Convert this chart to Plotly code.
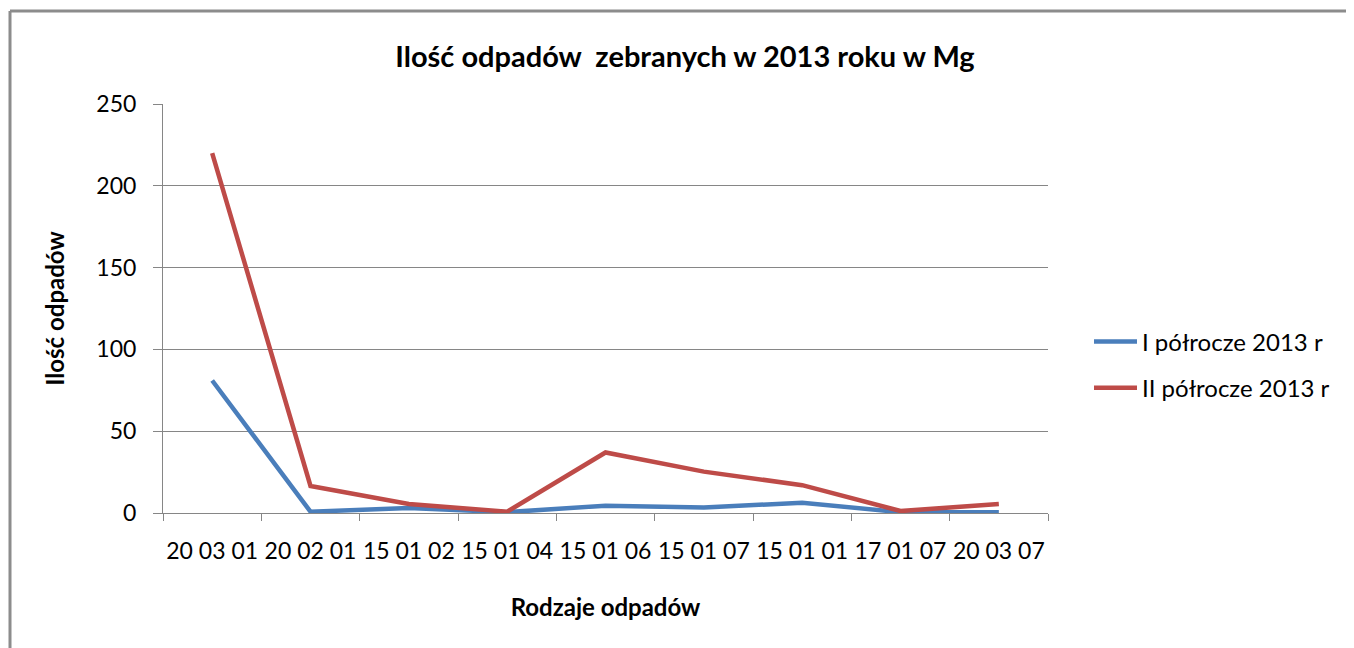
import plotly.graph_objects as go

categories = ["20 03 01", "20 02 01", "15 01 02", "15 01 04", "15 01 06",
              "15 01 07", "15 01 01", "17 01 07", "20 03 07"]
series1_name = "I półrocze 2013 r"
series1 = [81, 0.8, 3, 0.5, 4.5, 3.3, 6.3, 0.5, 0.4]
series2_name = "II półrocze 2013 r"
series2 = [220, 16.5, 5.5, 0.8, 37, 25.3, 17, 1.2, 5.5]
y_ticks = [0, 50, 100, 150, 200, 250]

OFF = 8  # page body margin of the browser
W, H = 1354 - OFF, 648 - OFF
L, R, T, B = 163 - OFF, 1048 - OFF, 104 - OFF, 513 - OFF
FONT = "Lato, Open Sans, sans-serif"
GRID = "#868686"

fig = go.Figure()
fig.add_trace(go.Scatter(x=categories, y=series1, mode="lines", name=series1_name,
                         line=dict(color="#4a7ebb", width=4.5), legendgroup="a"))
fig.add_trace(go.Scatter(x=categories, y=series2, mode="lines", name=series2_name,
                         line=dict(color="#be4b48", width=4.5), legendgroup="b"))

def px_x(p):
    return (p - OFF - L) / (R - L)

def px_y(p):
    return (B - (p - OFF)) / (B - T)

fig.update_layout(
    width=W, height=H,
    margin=dict(l=L, r=W - R, t=T, b=H - B, pad=0, autoexpand=False),
    paper_bgcolor="white", plot_bgcolor="white",
    font=dict(family=FONT, size=23, color="#000000"),
    title=dict(text="<b>Ilość odpadów  zebranych w 2013 roku w Mg</b>",
               x=(685 - OFF) / W, xanchor="center", y=1 - (57 - OFF) / H, yanchor="middle",
               font=dict(size=29, family=FONT)),
    xaxis=dict(type="category", tickson="boundaries", ticks="outside", ticklen=7,
               range=[-0.5, len(categories) - 0.5],
               tickcolor=GRID, showline=True, linecolor=GRID, linewidth=1,
               showgrid=False, tickfont=dict(size=23), tickangle=0,
               ticklabelstandoff=17,
               title=dict(text="<b>Rodzaje odpadów</b>", font=dict(size=24), standoff=36)),
    yaxis=dict(range=[0, 250], tickvals=y_ticks, ticks="outside", ticklen=9,
               tickcolor=GRID, showline=True, linecolor=GRID, linewidth=1,
               showgrid=True, gridcolor=GRID, gridwidth=1, zeroline=False,
               tickfont=dict(size=23), ticklabelstandoff=12,
               title=dict(text="<b>Ilość odpadów</b>", font=dict(size=24), standoff=24)),
    legend=dict(x=px_x(1089), xanchor="left", y=px_y(365), yanchor="middle",
                font=dict(size=24), tracegroupgap=12, itemwidth=43,
                bgcolor="rgba(0,0,0,0)"),
    showlegend=True,
)

# outer chart border (top and left edges visible)
fig.add_shape(type="line", xref="paper", yref="paper",
              x0=px_x(10), x1=px_x(1360), y0=px_y(11), y1=px_y(11),
              line=dict(color="#8c8c8c", width=3))
fig.add_shape(type="line", xref="paper", yref="paper",
              x0=px_x(10), x1=px_x(10), y0=px_y(11), y1=px_y(660),
              line=dict(color="#8c8c8c", width=3))

fig.write_html("out.html")
